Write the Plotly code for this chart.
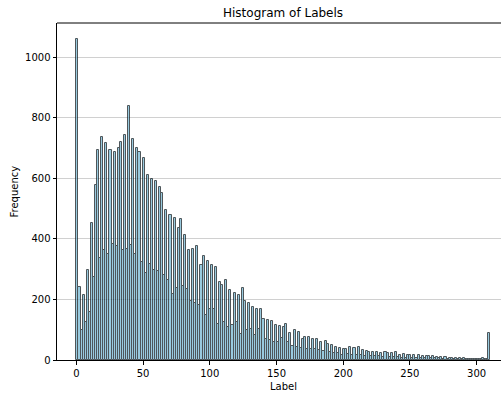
import numpy as np
import plotly.graph_objects as go

# Histogram definition (label range and number of bins)
label_min, label_max, n_bins = 0, 310, 200

# Frequency of each bin
freq = [
    1060, 242, 99, 214, 126, 297, 159, 452, 275, 578,
    695, 338, 736, 362, 718, 350, 693, 385, 688, 378,
    700, 722, 365, 745, 368, 840, 380, 730, 352, 700,
    688, 325, 668, 286, 613, 318, 599, 299, 593, 294,
    571, 552, 280, 496, 266, 480, 217, 469, 237, 437,
    467, 244, 412, 236, 365, 194, 368, 190, 378, 181,
    313, 343, 148, 326, 170, 315, 170, 307, 118, 258,
    247, 126, 266, 108, 231, 115, 223, 126, 215, 86,
    239, 194, 99, 190, 104, 176, 82, 170, 102, 168,
    135, 71, 132, 65, 130, 59, 115, 59, 112, 74,
    110, 119, 58, 90, 45, 99, 44, 93, 40, 68,
    75, 38, 77, 36, 69, 35, 71, 33, 60, 30,
    64, 53, 25, 49, 22, 44, 22, 40, 18, 35,
    38, 20, 42, 18, 40, 17, 42, 16, 33, 14,
    30, 27, 13, 27, 12, 25, 12, 24, 11, 25,
    24, 10, 22, 10, 27, 9, 18, 8, 20, 8,
    17, 16, 7, 15, 7, 17, 6, 14, 6, 12,
    13, 5, 12, 5, 11, 5, 9, 4, 9, 4,
    8, 7, 3, 6, 3, 6, 3, 5, 2, 4,
    4, 2, 4, 2, 3, 2, 6, 3, 4, 90,
]

x_ticks = [0, 50, 100, 150, 200, 250, 300]
y_ticks = [0, 200, 400, 600, 800, 1000]

edges = np.linspace(label_min, label_max, n_bins + 1)
centers = (edges[:-1] + edges[1:]) / 2
widths = np.diff(edges)

fig = go.Figure()
fig.add_trace(go.Bar(
    x=centers, y=freq, width=widths,
    marker=dict(color="rgb(120,185,212)", line=dict(color="rgb(20,30,35)", width=1)),
    opacity=0.75,
))

font = "DejaVu Sans, Arial, sans-serif"
fig.update_layout(
    width=501, height=397,
    margin=dict(l=57, r=0, t=23, b=37),
    plot_bgcolor="white", paper_bgcolor="white",
    bargap=0, showlegend=False,
    font=dict(family=font, size=10, color="black"),
    xaxis=dict(range=[-14.55, 318.3], tickvals=x_ticks, ticks="outside", ticklen=3.5,
               tickcolor="black", showline=True, linecolor="black", linewidth=1,
               showgrid=False, zeroline=False, tickfont=dict(size=10)),
    yaxis=dict(range=[0, 1114], tickvals=y_ticks, ticks="outside", ticklen=3.5,
               tickcolor="black", showline=True, linecolor="black", linewidth=1,
               showgrid=True, gridcolor="#d0d0d0", gridwidth=1, zeroline=False,
               tickfont=dict(size=10)),
    shapes=[dict(type="line", xref="paper", yref="paper", x0=0, x1=1, y0=1, y1=1,
                 line=dict(color="black", width=1))],
    annotations=[
        dict(text="Histogram of Labels", xref="paper", yref="paper",
             x=(283 - 57) / 444, y=1, yshift=10, showarrow=False,
             xanchor="center", yanchor="middle", font=dict(size=12)),
        dict(text="Label", xref="paper", yref="paper", x=(283 - 57) / 444, y=0,
             yshift=-26, showarrow=False, xanchor="center", yanchor="middle",
             font=dict(size=10)),
        dict(text="Frequency", xref="paper", yref="paper", x=0, xshift=-43,
             y=0.5, textangle=-90, showarrow=False, xanchor="center",
             yanchor="middle", font=dict(size=10)),
    ],
)

fig.write_html("out.html")
